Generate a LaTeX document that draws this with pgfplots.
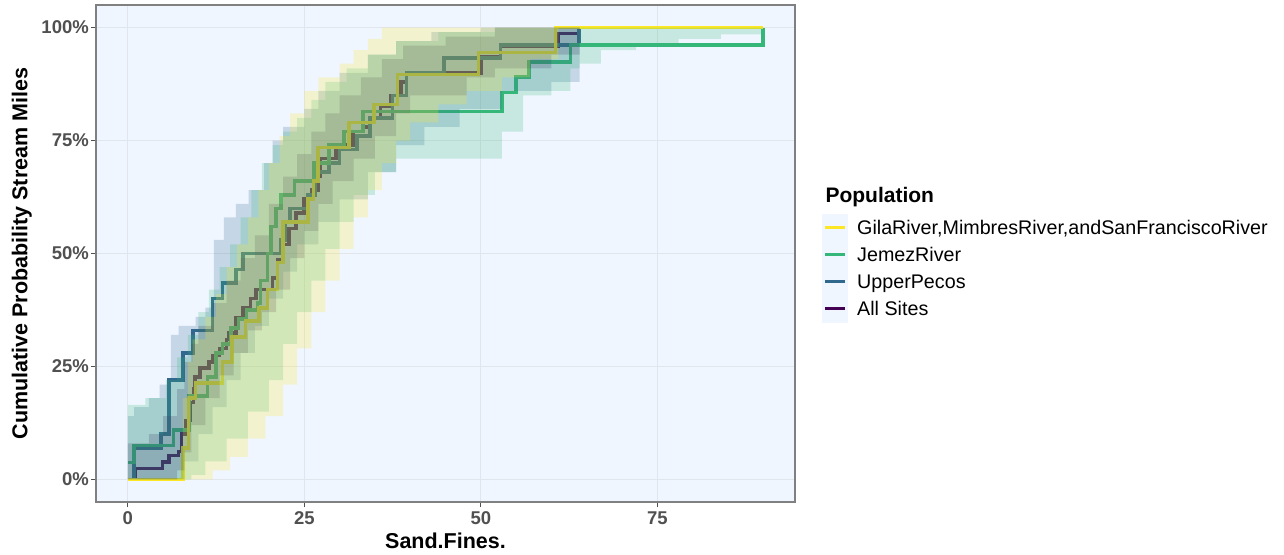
\documentclass[border=0pt]{standalone}
\usepackage{pgfplots}
\pgfplotsset{compat=1.18}
\usepackage{fontspec}
\setmainfont{Liberation Sans}

\definecolor{bgblue}{RGB}{239,246,255}
\definecolor{gridc}{RGB}{225,229,236}
\definecolor{ylw}{HTML}{FDE725}
\definecolor{grn}{HTML}{35B779}
\definecolor{blu}{HTML}{31688E}
\definecolor{pur}{HTML}{440154}
\definecolor{tickc}{RGB}{80,80,80}
\definecolor{framec}{RGB}{128,128,128}

\begin{document}
\begin{tikzpicture}
\path[use as bounding box] (0,0) rectangle (1284pt,554pt);
\begin{axis}[
  at={(96pt,52pt)}, anchor=south west,
  scale only axis, width=699pt, height=497pt,
  xmin=-4.5, xmax=94.5, ymin=-5, ymax=105,
  xtick={0,25,50,75}, xticklabels={0,25,50,75},
  ytick={0,25,50,75,100}, yticklabels={0\%,25\%,50\%,75\%,100\%},
  tick pos=left, tick align=outside,
  major tick length=5pt,
  tick style={draw=tickc, line width=1.2pt},
  ticklabel style={font=\fontsize{18.5}{18.5}\selectfont\bfseries, text=tickc},
  yticklabel style={inner sep=2pt},
  xticklabel style={inner sep=4.5pt},
  axis background/.style={fill=bgblue},
  axis line style={draw=framec, line width=1.3pt},
  grid=major, major grid style={draw=gridc, line width=1.2pt},
  xlabel={Sand.Fines.}, ylabel={Cumulative Probability Stream Miles},
  label style={font=\fontsize{21.5}{21.5}\selectfont\bfseries, text=black},
  xlabel style={at={(axis description cs:0.5,-0.0785)}, anchor=center},
  ylabel style={at={(axis description cs:-0.106,0.5)}, anchor=center, rotate=0},
]
% step lines (drawn first, ribbons lie on top of them)
\addplot[const plot, draw=pur, line width=3.6pt] coordinates {
(0,0) (1.1,2.4) (4.9,3.8) (5.8,5.3) (7.2,6.2) (7.6,10) (8.2,13) (8.8,17) (9.3,20)
(9.5,22.6) (10.2,24.6) (11.5,26) (12,27.4) (13,29) (14,31) (14.3,32.4) (15.3,35.7)
(16.3,38) (17.4,40) (18.2,42) (20.5,44.6) (21.2,48.6) (22,52) (22.8,55.5) (23.8,59)
(25,62) (26,64) (27,67) (27.3,71) (29.5,74) (31.9,77) (33.3,78) (34.3,80) (35.8,82.5)
(37.2,85) (38.7,88) (39.5,90) (50,93.6) (52.8,95.8) (61,98.7) (64,100) (90,100)};
\addplot[const plot, draw=blu, line width=3.6pt] coordinates {
(0,0) (0.9,7) (4.7,10) (5.8,22) (7.8,28) (9.2,33) (12,40) (13.4,43.5) (15.3,46.5)
(16.3,50) (21.7,53) (22.3,57) (23,60) (25.5,63) (26.5,68) (28.5,70) (30,73) (32.5,76)
(34.3,80) (37.5,85) (39.5,90) (44.8,93.3) (52.8,96.2) (63.9,100) (64,100)};
\addplot[const plot, draw=grn, line width=3.6pt] coordinates {
(0,3.7) (0.9,7.5) (6.5,11) (8.7,18.5) (11.3,22.6) (12.5,28) (13.4,30) (14.6,33.5)
(15.7,35.5) (16.8,37.5) (18.4,39) (18.8,44) (19.8,50) (20.3,56) (21,60) (21.7,63)
(23.6,66) (26.4,70) (28.5,74) (30.6,77) (33.3,81.4) (53,85.6) (55,89) (56.8,92.4)
(62.7,96.2) (90,100)};
\addplot[const plot, draw=ylw, line width=3.6pt] coordinates {
(0,0) (7.8,7) (8.6,18) (9.6,21.3) (13.4,26) (14.8,31.5) (16.7,35) (18.6,38) (19.8,42)
(21.2,48) (22,57) (25.5,62) (26.3,66) (26.9,73.5) (31.3,79) (34.9,83) (38.2,89.6)
(49.7,94.5) (60.6,100) (90,100)};
% ribbons: upper edge left to right, then lower edge right to left
\addplot[const plot mark right, fill=pur, fill opacity=0.22, draw=none] coordinates {
(0,6) (3,8) (5,10) (7,14) (8,20) (9,26) (10,30) (12,34) (14,39) (16,44) (18,49) (20,54)
(22,61) (24,67) (26,72) (28,77) (30,81) (33,85) (36,89) (39,93) (45,96) (52,98) (60,100) (64,100)
(64,96) (60,94) (52,91) (48,89) (40,85) (38,81) (35,76) (32,71) (29,66) (27,61) (25,55)
(23,49) (21,42) (19,37) (17,33) (15,28) (13,23) (11,18) (9,12) (8,6) (7,2) (6,0) (0,0)};
\addplot[const plot mark right, fill=blu, fill opacity=0.22, draw=none] coordinates {
(0,8) (0.9,14) (3,16) (4.5,18) (6.1,21) (6.1,27) (7.2,32) (9.6,34) (11,36) (12.2,38)
(12.2,44) (13.6,53) (15.3,58) (17.1,61) (19.3,64) (20.5,70) (22,75) (25,78) (27,82)
(30,86) (34,90) (38,94) (43,97) (50,99) (58,100) (64,100)
(64,92) (60,88) (53,86) (47,82) (42,78) (38,74) (34,68) (30,62) (27,57) (24,52) (22,46)
(20,40) (18,34) (16,28) (14,22) (12,16) (10,10) (8,4) (6,0) (0,0)};
\addplot[const plot mark right, fill=grn, fill opacity=0.22, draw=none] coordinates {
(0,15) (2.5,16.5) (5.4,18) (7,22) (8.5,27) (10,32) (11.5,37) (13,42) (14.5,47) (16,52)
(17.5,58) (19,64) (20.5,70) (22,74) (24,77) (26,80) (28,84) (31,88) (34,91) (38,94)
(44,97) (52,99) (60,100) (90,100)
(90,99.5) (84,98.5) (78,97.5) (72,96.5) (67,95) (64,92) (62.7,91) (60,86) (56,85)
(53,77) (53,71) (38,71) (35,68) (32,63) (30,57) (28,51) (26,44) (24,37) (22,30) (20,22)
(17,15) (14,9) (11,4) (9,1) (8,0) (0,0)};
\addplot[const plot mark right, fill=ylw, fill opacity=0.22, draw=none] coordinates {
(0,0) (7.8,0) (7.8,10) (8.5,18) (9.2,26) (11,31) (12.5,36) (14,41) (15.5,47) (17,52)
(18.5,58) (20,64) (21.5,70) (23,76) (25,81) (27,86) (30,89) (32,92) (34,95) (36,97.5)
(38,100) (61,100)
(61,96) (57,93) (53,89) (48,86) (44,83) (40,79) (38,75) (36,70) (34,64) (32,58) (30,51)
(28,44) (26,37) (24,29) (22,21) (19.5,14) (17,9) (14.5,5) (12,2) (10,0)};
\end{axis}
% legend
\node[anchor=base west, font=\fontsize{21}{21}\selectfont\bfseries] at (822pt,351pt) {Population};
\fill[bgblue] (822pt,231pt) rectangle (848pt,340pt);
\draw[ylw, line width=3pt] (825pt,326pt) -- (845pt,326pt);
\draw[grn, line width=3pt] (825pt,299pt) -- (845pt,299pt);
\draw[blu, line width=3pt] (825pt,272pt) -- (845pt,272pt);
\draw[pur, line width=3pt] (825pt,245pt) -- (845pt,245pt);
\begin{scope}[every node/.style={anchor=base west, inner sep=0pt, font=\fontsize{19.7}{19.7}\selectfont}]
\node at (857pt,319pt) {GilaRiver,MimbresRiver,andSanFranciscoRiver};
\node at (857pt,292pt) {JemezRiver};
\node at (857pt,265pt) {UpperPecos};
\node at (857pt,238pt) {All Sites};
\end{scope}
\end{tikzpicture}
\end{document}
